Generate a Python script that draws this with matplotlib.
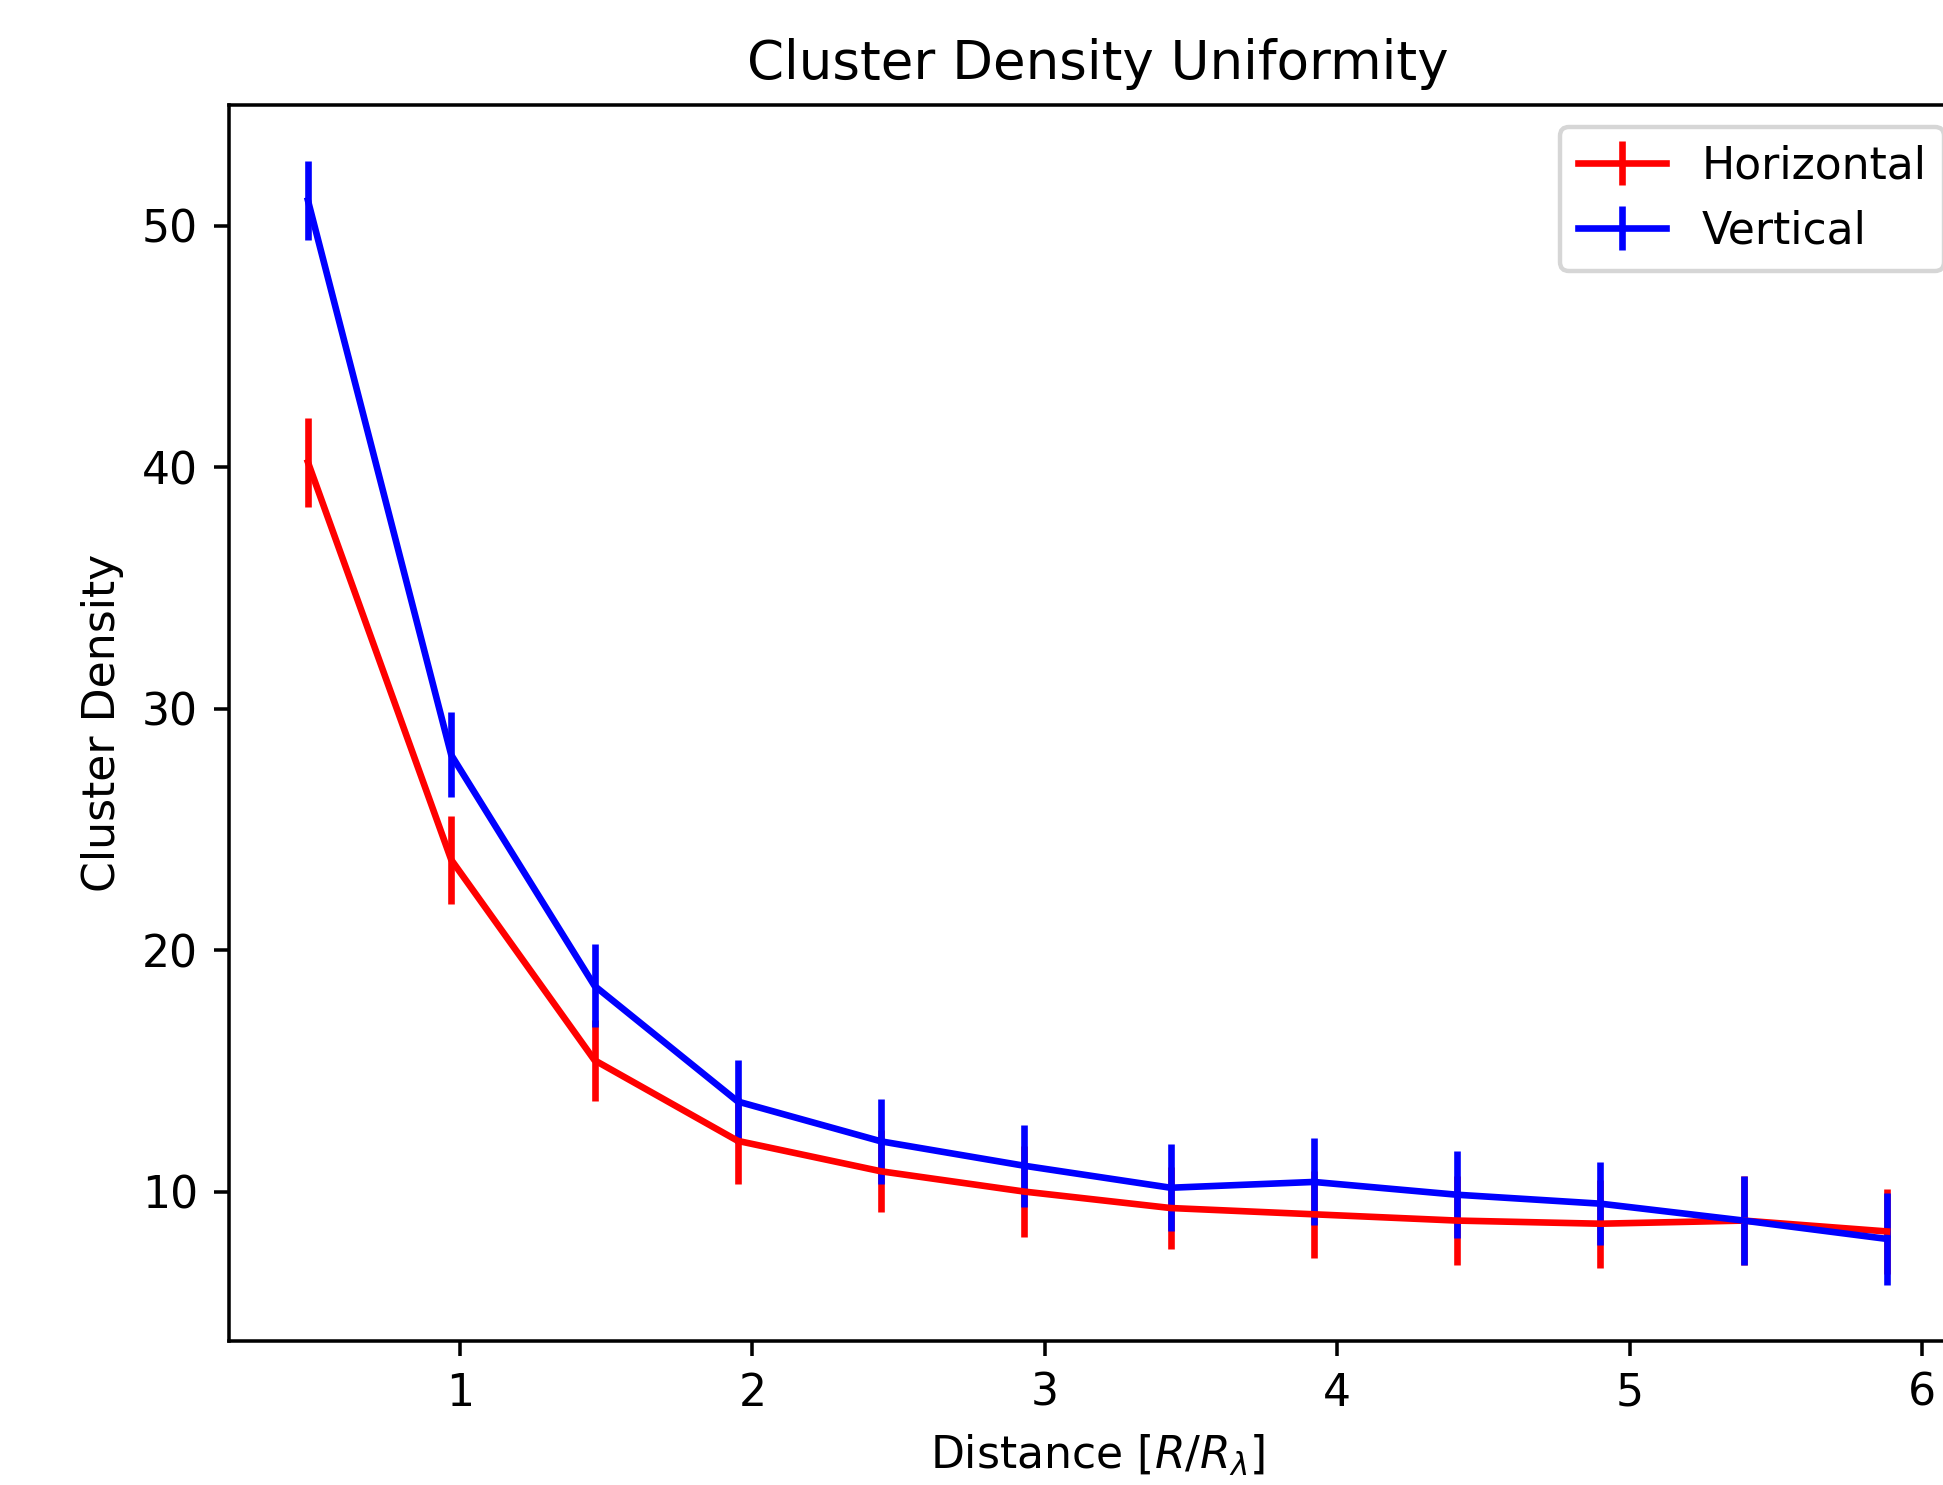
import numpy as np
import matplotlib
matplotlib.use("Agg")
import matplotlib.pyplot as plt

# distance bins and measured densities
distance = [0.48, 0.97, 1.46, 1.95, 2.44, 2.93, 3.43, 3.92, 4.41, 4.90, 5.39, 5.88]
horizontal = [40.2, 23.74, 15.44, 12.1, 10.84, 10.0, 9.32, 9.06, 8.8, 8.67, 8.8, 8.35]
horizontal_err = [1.83, 1.82, 1.67, 1.78, 1.7, 1.88, 1.7, 1.8, 1.85, 1.83, 1.85, 1.75]
vertical = [51.04, 28.08, 18.52, 13.73, 12.08, 11.07, 10.16, 10.4, 9.87, 9.5, 8.8, 8.04]
vertical_err = [1.63, 1.76, 1.72, 1.71, 1.76, 1.7, 1.8, 1.8, 1.8, 1.72, 1.84, 1.9]

dpi = 318
fig = plt.figure(figsize=(1943 / dpi, 1485 / dpi), dpi=dpi)
# axes runs a bit past the right edge of the picture (cropped original)
ax = fig.add_axes([229 / 1943, 1 - 1341 / 1485, (1966 - 229) / 1943, 1236 / 1485])

ax.errorbar(distance, horizontal, yerr=horizontal_err, color='red', label='Horizontal')
ax.errorbar(distance, vertical, yerr=vertical_err, color='blue', label='Vertical')

ax.set_title('Cluster Density Uniformity')
ax.set_xlabel(r'Distance [$R/R_\lambda$]')
ax.set_ylabel('Cluster Density')
ax.legend(loc='upper right')

fig.savefig('out.png', dpi=dpi)
